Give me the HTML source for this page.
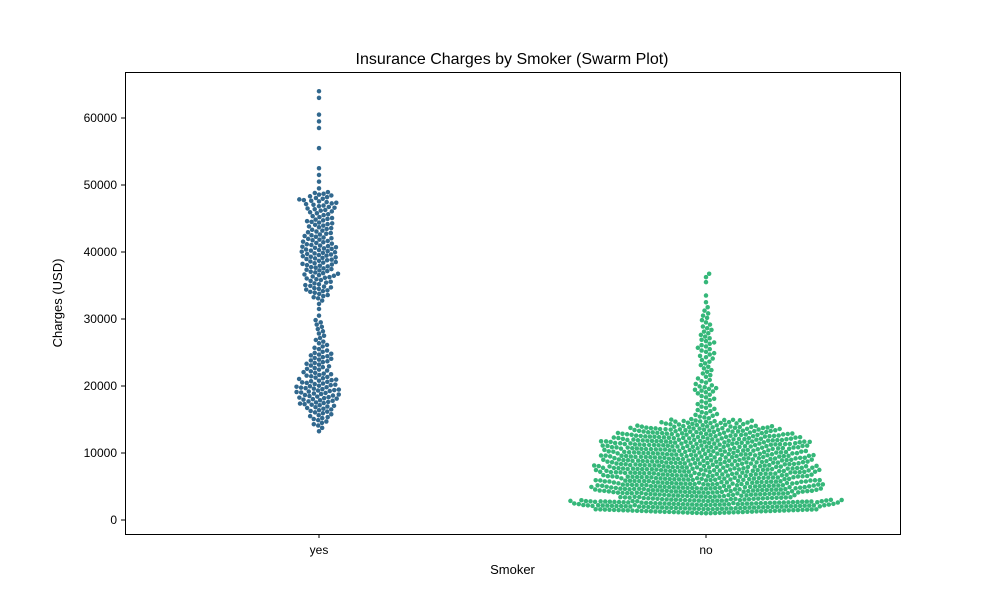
<!DOCTYPE html>
<html><head><meta charset="utf-8">
<style>
body{margin:0;background:#fff;font-family:"Liberation Sans",sans-serif;}
svg text{font-family:"Liberation Sans",sans-serif;fill:#000;}
</style></head>
<body>
<svg id="chart" width="1000" height="600">
<rect width="1000" height="600" fill="#fff"/>
<text x="512" y="64" font-size="16" text-anchor="middle">Insurance Charges by Smoker (Swarm Plot)</text>
<g id="marks"></g>
<g id="axes"></g>
<rect x="125.5" y="72.5" width="775" height="462" fill="none" stroke="#000" stroke-width="1"/>
<text x="512.5" y="574" font-size="13" text-anchor="middle">Smoker</text>
<text transform="translate(62,303) rotate(-90)" font-size="13" text-anchor="middle">Charges (USD)</text>
</svg>
<script>
const categories = ["yes","no"];
const colors = ["#31688e","#35b779"];
const yTicks = [0,10000,20000,30000,40000,50000,60000];
// bin start values (USD, 1000-wide bins) and counts per bin, per category
const yesBins = [13000,14000,15000,16000,17000,18000,19000,20000,21000,22000,23000,24000,25000,26000,27000,28000,29000,30000,31000,32000,33000,34000,35000,36000,37000,38000,39000,40000,41000,42000,43000,44000,45000,46000,47000,48000,49000,50000,51000,52000,55000,58000,59000,60000,62500,63500];
const yesCounts = [2,5,7,9,12,13,14,12,10,8,8,8,5,4,3,3,3,1,1,2,6,9,8,10,10,11,12,12,10,9,8,9,7,9,10,8,1,1,1,1,1,1,1,1,1,1];
const noBins = [1000,2000,3000,4000,5000,6000,7000,8000,9000,10000,11000,12000,13000,14000,15000,16000,17000,18000,19000,20000,21000,22000,23000,24000,25000,26000,27000,28000,29000,30000,31000,32000,33000,35000,36000];
const noCounts = [80,95,60,80,75,70,75,70,70,65,70,60,50,30,8,6,5,5,8,5,4,4,4,5,5,5,4,4,3,3,2,1,1,1,2];

function xScale(i){ return [319,706][i]; }
function yScale(v){ return 520 - v*0.0067; }
const NS="http://www.w3.org/2000/svg";
const axes=document.getElementById('axes');
const marks=document.getElementById('marks');

yTicks.forEach(t=>{
  const y=yScale(t);
  const l=document.createElementNS(NS,'line');
  l.setAttribute('x1',125);l.setAttribute('x2',121);l.setAttribute('y1',y);l.setAttribute('y2',y);l.setAttribute('stroke','#000');
  
  
  axes.appendChild(l);
  const tx=document.createElementNS(NS,'text');
  tx.setAttribute('x',117);tx.setAttribute('y',y+4);tx.setAttribute('font-size','12');tx.setAttribute('text-anchor','end');
  tx.textContent=t;
  
  
  axes.appendChild(tx);
});
categories.forEach((c,i)=>{
  const x=xScale(i);
  const l=document.createElementNS(NS,'line');
  l.setAttribute('x1',x);l.setAttribute('x2',x);l.setAttribute('y1',534);l.setAttribute('y2',538);l.setAttribute('stroke','#000');
  
  
  axes.appendChild(l);
  const tx=document.createElementNS(NS,'text');
  tx.setAttribute('x',x);tx.setAttribute('y',554);tx.setAttribute('font-size','12');tx.setAttribute('text-anchor','middle');
  tx.textContent=c;
  
  
  axes.appendChild(tx);
});

const D=4.6;
function swarm(bins,counts,ci){
  const ys=[];
  bins.forEach((b,k)=>{ const n=counts[k]; for(let j=0;j<n;j++){ ys.push(yScale(b+1000*(j+0.5)/n)); } });
  ys.sort((a,b)=>b-a);
  const placed=[];
  ys.forEach(y=>{
    const near=placed.filter(p=>Math.abs(p[1]-y)<D);
    const cands=[0];
    near.forEach(p=>{const dx=Math.sqrt(D*D-(p[1]-y)**2); cands.push(p[0]+dx,p[0]-dx);});
    cands.sort((a,b)=>Math.abs(a)-Math.abs(b));
    let xo=0;
    for(const c of cands){
      if(near.every(p=>(p[0]-c)**2+(p[1]-y)**2>=D*D-0.01)){xo=c;break;}
    }
    placed.push([xo,y]);
    const dot=document.createElementNS(NS,'circle');
    dot.setAttribute('cx',xScale(ci)+xo);dot.setAttribute('cy',y);dot.setAttribute('r',2.25);dot.setAttribute('fill',colors[ci]);
    
    
    marks.appendChild(dot);
  });
}
swarm(yesBins,yesCounts,0);
swarm(noBins,noCounts,1);
</script>
</body></html>
